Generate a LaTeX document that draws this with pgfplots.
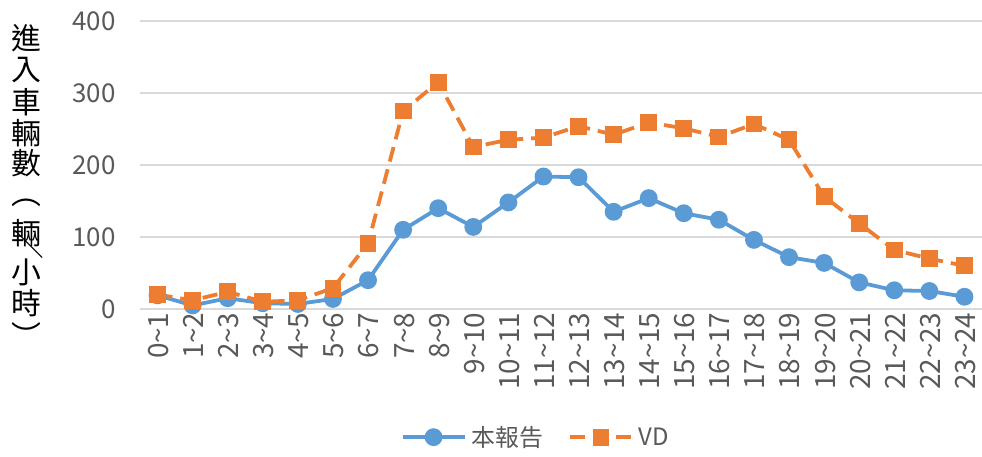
\documentclass[border=0pt]{standalone}
\usepackage{fontspec}
\setmainfont{Noto Sans CJK TC}
\usepackage{pgfplots}
\pgfplotsset{compat=1.18}
\definecolor{cblue}{HTML}{5B9BD5}
\definecolor{corange}{HTML}{ED7D31}
\definecolor{cgrid}{HTML}{D9D9D9}
\definecolor{ctick}{HTML}{595959}

% hourly inbound vehicles: this report vs VD
\pgfplotstableread{
x ours vd
0  19 20
1  5  12
2  15 24
3  8  10
4  7  12
5  14 29
6  40 91
7  110 275
8  140 315
9  114 225
10 148 235
11 184 238
12 183 254
13 135 242
14 154 259
15 133 251
16 124 239
17 96 257
18 72 235
19 64 156
20 37 119
21 26 82
22 25 70
23 17 60
}\traffic

\begin{document}
\begin{tikzpicture}
\begin{axis}[
  at={(0,0)}, anchor=south west,
  scale only axis, width=842bp, height=288bp,
  xmin=-0.5, xmax=23.5, ymin=0, ymax=400,
  xtick={0,...,23},
  xticklabels={0\string~1,1\string~2,2\string~3,3\string~4,4\string~5,5\string~6,6\string~7,7\string~8,8\string~9,9\string~10,10\string~11,11\string~12,12\string~13,13\string~14,14\string~15,15\string~16,16\string~17,17\string~18,18\string~19,19\string~20,20\string~21,21\string~22,22\string~23,23\string~24},
  ytick={0,100,...,400},
  ymajorgrids, grid style={cgrid, line width=1.2bp},
  major tick length=0pt,
  axis line style={draw=none},
  tick label style={font=\fontsize{26}{26}\selectfont, text=ctick},
  x tick label style={rotate=90, anchor=east, yshift=-1bp, font=\fontsize{28}{28}\selectfont},
  y tick label style={xshift=-21bp},
  /pgf/number format/assume math mode=true,
  clip=false,
  legend columns=2,
  legend style={at={(0.472,-0.445)}, anchor=center, draw=none, fill=none,
    font=\fontsize{24}{24}\selectfont, text=ctick,
    nodes={inner xsep=5bp},
    /tikz/every even column/.append style={column sep=20bp}},
  legend image code/.code={
    \draw[mark repeat=2, mark phase=2] plot coordinates {(0bp,0bp) (31bp,0bp) (62bp,0bp)};},
]
\addplot[cblue, line width=3.8bp, mark=*, mark size=7bp, mark options={solid, fill=cblue}]
  table[x=x, y=ours] {\traffic};
\addlegendentry{本報告}
\addplot[corange, line width=3.8bp, dash pattern=on 15bp off 8bp, mark=square*, mark size=6.5bp, mark options={solid, fill=corange}]
  table[x=x, y=vd] {\traffic};
\addlegendentry{VD}
\end{axis}
% vertical y-axis title
\begin{scope}[every node/.style={font=\fontsize{30}{30}\selectfont, inner sep=0pt}]
\node at (-114bp,271bp) {進};
\node at (-114bp,239bp) {入};
\node at (-114bp,207bp) {車};
\node at (-114bp,176bp) {輛};
\node at (-114bp,146bp) {數};
\node at (-114bp,106bp) {︵};
\node at (-114bp,76bp) {輛};
\node[rotate=90] at (-111bp,64bp) {／};
\node at (-114bp,37bp) {小};
\node at (-114bp,6bp) {時};
\node at (-114bp,-26bp) {︶};
\end{scope}
\pgfresetboundingbox
\path (-140bp,-148bp) rectangle (842bp,309bp);
\end{tikzpicture}
\end{document}
